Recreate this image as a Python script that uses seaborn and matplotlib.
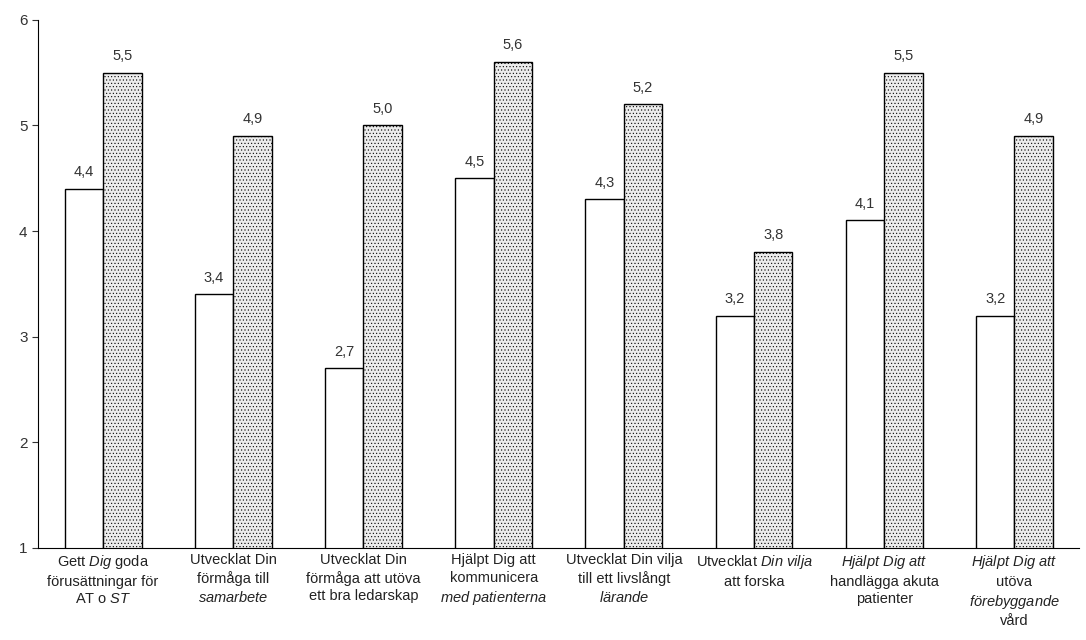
import pandas as pd
import matplotlib
matplotlib.use("Agg")
import matplotlib.pyplot as plt
import seaborn as sns

# Data
categories = [
    "Gett $\\mathit{Dig}$ goda\nförusättningar för\nAT o $\\mathit{ST}$",
    "Utvecklat Din\nförmåga till\n$\\mathit{samarbete}$",
    "Utvecklat Din\nförmåga att utöva\nett bra ledarskap",
    "Hjälpt Dig att\nkommunicera\n$\\mathit{med\\ patienterna}$",
    "Utvecklat Din vilja\ntill ett livslångt\n$\\mathit{lärande}$",
    "Utvecklat $\\mathit{Din\\ vilja}$\natt forska",
    "$\\mathit{Hjälpt\\ Dig\\ att}$\nhandlägga akuta\npatienter",
    "$\\mathit{Hjälpt\\ Dig\\ att}$\nutöva\n$\\mathit{förebyggande}$\nvård",
]
serie_a = [4.4, 3.4, 2.7, 4.5, 4.3, 3.2, 4.1, 3.2]
serie_b = [5.5, 4.9, 5.0, 5.6, 5.2, 3.8, 5.5, 4.9]

df = pd.DataFrame({
    "kategori": categories * 2,
    "varde": serie_a + serie_b,
    "serie": ["A"] * len(serie_a) + ["B"] * len(serie_b),
})

sns.set_style("white")
plt.rcParams["font.family"] = ["Liberation Sans", "DejaVu Sans"]
plt.rcParams["mathtext.fontset"] = "custom"
plt.rcParams["mathtext.rm"] = "Liberation Sans"
plt.rcParams["mathtext.it"] = "Liberation Sans:italic"
plt.rcParams["hatch.linewidth"] = 0.4

fig, ax = plt.subplots(figsize=(10.86, 6.4), dpi=100)
fig.subplots_adjust(left=0.035, right=0.994, top=0.969, bottom=0.144)

sns.barplot(data=df, x="kategori", y="varde", hue="serie",
            palette=["white", "#ececec"], width=0.59, gap=0,
            edgecolor="black", linewidth=1.0, ax=ax, legend=False)

# prickigt mönster på andra serien
for p in ax.containers[1]:
    p.set_hatch(".....")

for cont, vals in zip(ax.containers, [serie_a, serie_b]):
    ax.bar_label(cont, labels=[f"{v:.1f}".replace(".", ",") for v in vals],
                 padding=7, fontsize=10.5, color="#333333")

ax.set_ylim(1, 6)
ax.set_xlim(-0.5, 7.5)
ax.set_yticks([1, 2, 3, 4, 5, 6])
ax.set_xlabel("")
ax.set_ylabel("")
ax.tick_params(axis="x", length=0, labelsize=10.5, pad=4, colors="#222222")
for t in ax.get_xticklabels():
    t.set_linespacing(1.3)
ax.tick_params(axis="y", length=4, direction="out", labelsize=11, colors="#333333", left=True)
sns.despine(ax=ax)
ax.spines["left"].set_color("black")
ax.spines["bottom"].set_color("black")

plt.savefig("out.png", dpi=100)
